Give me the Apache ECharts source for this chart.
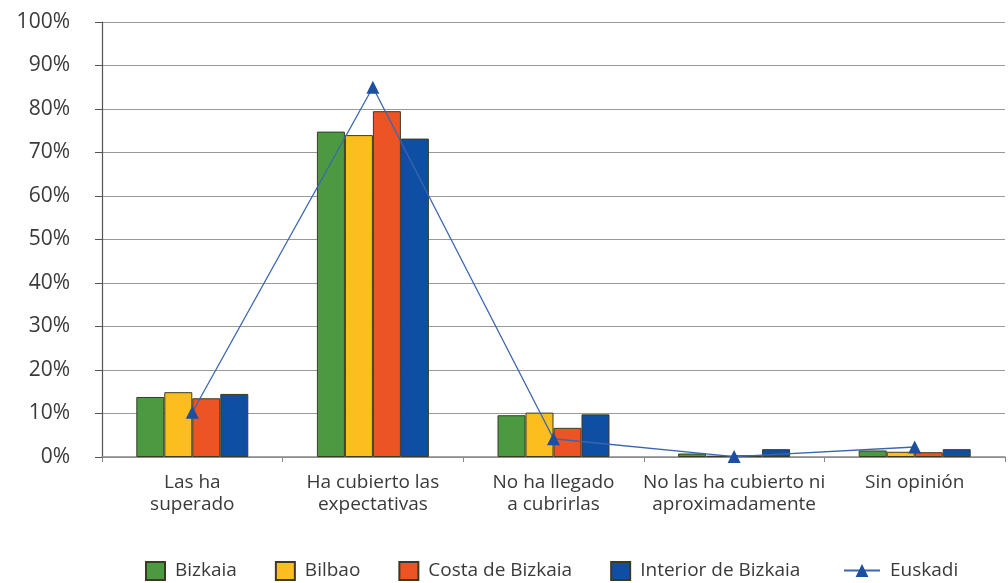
<!DOCTYPE html>
<html>
<head>
<meta charset="utf-8">
<script src="https://cdn.jsdelivr.net/npm/echarts@6/dist/echarts.min.js"></script>
<style>
  html, body { margin: 0; padding: 0; background: #fff; }
  #chart { width: 1008px; height: 583px; }
</style>
</head>
<body>
<div id="chart"></div>
<script>
const categories = [
  'Las ha\nsuperado',
  'Ha cubierto las\nexpectativas',
  'No ha llegado\na cubrirlas',
  'No las ha cubierto ni\naproximadamente',
  'Sin opinión'
];
const bizkaia = [13.8, 74.8, 9.6, 0.8, 1.5];
const bilbao = [14.9, 74.0, 10.2, 0.3, 1.2];
const costa = [13.5, 79.5, 6.7, 0.4, 1.1];
const interior = [14.5, 73.2, 9.8, 1.8, 1.8];
const euskadi = [10.3, 85.0, 4.2, 0.1, 2.3];
const yTicks = [0, 10, 20, 30, 40, 50, 60, 70, 80, 90, 100];

const font = '"Open Sans", Lato, sans-serif';
const barColors = ['#4b9a42', '#fbbe1e', '#ec5424', '#0e4fa3'];

const chart = echarts.init(document.getElementById('chart'));

const barSeries = [
  ['Bizkaia', bizkaia],
  ['Bilbao', bilbao],
  ['Costa de Bizkaia', costa],
  ['Interior de Bizkaia', interior]
].map(([name, values], i) => ({
  name: name,
  type: 'bar',
  data: values,
  barGap: '0%',
  barCategoryGap: '38%',
  itemStyle: {
    color: barColors[i],
    borderColor: '#3b3b24',
    borderWidth: 1
  }
}));

const legendText = { fontSize: 19, color: '#3a3a3a', fontFamily: font, padding: [0, 0, 0, 5] };

const option = {
  animation: false,
  backgroundColor: '#ffffff',
  textStyle: { fontFamily: font },
  grid: { left: 102, right: 3, top: 22, bottom: 126 },
  legend: [
    {
      data: ['Bizkaia', 'Bilbao', 'Costa de Bizkaia', 'Interior de Bizkaia'],
      left: 145,
      top: 561,
      padding: 0,
      itemWidth: 19,
      itemHeight: 18,
      itemGap: 38,
      icon: 'rect',
      textStyle: legendText
    },
    {
      data: ['Euskadi'],
      left: 843,
      top: 561,
      padding: 0,
      itemWidth: 36,
      itemHeight: 16,
      textStyle: legendText
    }
  ],
  xAxis: {
    type: 'category',
    data: categories,
    axisLine: { lineStyle: { color: '#888', width: 1.5 } },
    axisTick: { show: true, length: 5, lineStyle: { color: '#888' } },
    axisLabel: {
      color: '#3a3a3a',
      fontSize: 19,
      lineHeight: 22,
      margin: 15,
      fontFamily: font,
      interval: 0
    }
  },
  yAxis: {
    type: 'value',
    min: 0,
    max: 100,
    interval: 10,
    axisLine: { show: true, lineStyle: { color: '#555', width: 1.2 } },
    axisTick: { show: true, length: 7, lineStyle: { color: '#555' } },
    axisLabel: {
      color: '#3a3a3a',
      fontSize: 21,
      margin: 32,
      fontFamily: font,
      formatter: v => (yTicks.includes(v) ? v + '%' : '')
    },
    splitLine: { show: true, lineStyle: { color: '#999', width: 1.2 } }
  },
  series: barSeries.concat([
    {
      name: 'Euskadi',
      type: 'line',
      data: euskadi,
      symbol: 'triangle',
      symbolSize: 13,
      z: 5,
      lineStyle: { color: '#3a66b0', width: 1.3 },
      itemStyle: { color: '#1d4fa0' }
    }
  ])
};

chart.setOption(option);
</script>
</body>
</html>
